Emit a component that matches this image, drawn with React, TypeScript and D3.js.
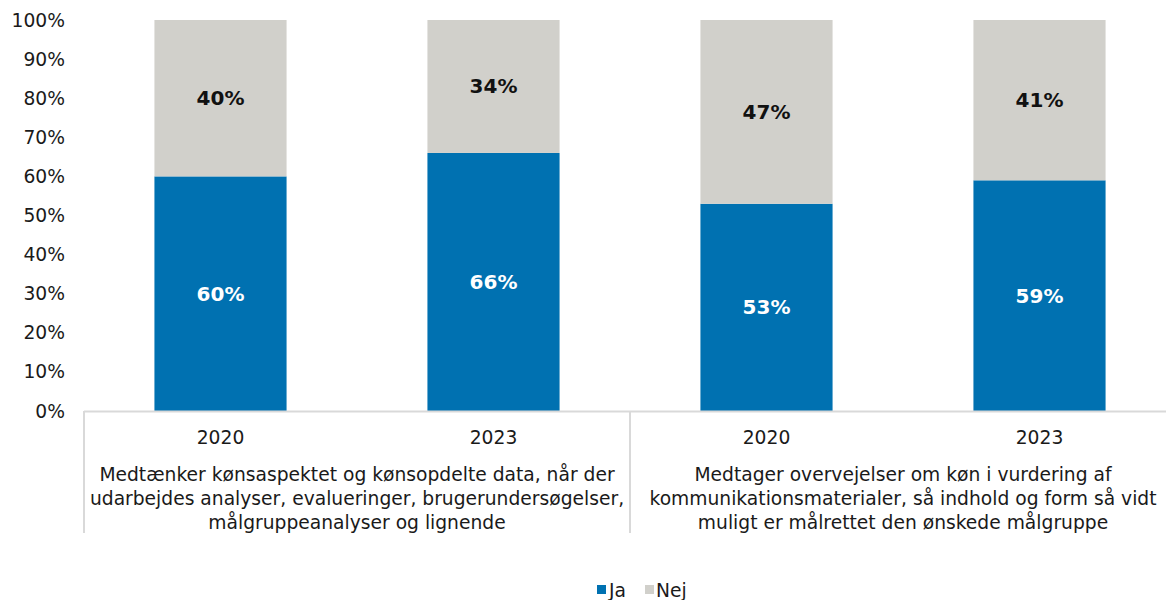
import React from "react";
import * as d3 from "d3";

const barKeys = ["g1-2020", "g1-2023", "g2-2020", "g2-2023"];
const years = ["2020", "2023", "2020", "2023"];
const groups = ["g1", "g2"];
const groupLabels = [
  [
    "Medtænker kønsaspektet og kønsopdelte data, når der",
    "udarbejdes analyser, evalueringer, brugerundersøgelser,",
    "målgruppeanalyser og lignende",
  ],
  [
    "Medtager overvejelser om køn i vurdering af",
    "kommunikationsmaterialer, så indhold og form så vidt",
    "muligt er målrettet den ønskede målgruppe",
  ],
];
const jaValues = [60, 66, 53, 59];
const nejValues = [40, 34, 47, 41];
const yTicks = [0, 10, 20, 30, 40, 50, 60, 70, 80, 90, 100];
const seriesNames = ["Ja", "Nej"];
const seriesColors = ["#0071B1", "#D1D0CB"];

const W = 1166;
const H = 600;
const FONT = "'DejaVu Sans', Verdana, sans-serif";
const FS = 18.7;

export default function App() {
  const left = 84;
  const right = 1176;
  const top = 20;
  const bottom = 411;
  const x = d3.scaleBand<string>().domain(barKeys).range([left, right]).paddingInner(0.516).paddingOuter(0.258);
  const xg = d3.scaleBand<string>().domain(groups).range([left, right]);
  const y = d3.scaleLinear().domain([0, 100]).range([bottom, top]);
  const axisColor = "#D9D9D9";
  const textColor = "#1a1a1a";

  return (
    <svg width={W} height={H} style={{ position: "absolute", left: 0, top: 0 }} fontFamily={FONT}>
      <rect x={0} y={0} width={W} height={H} fill="#fff" />
      {yTicks.map((t) => (
        <text key={t} x={65} y={y(t)} dy="0.35em" textAnchor="end" fontSize={FS} fill={textColor}>
          {t}%
        </text>
      ))}
      {barKeys.map((k, i) => {
        const bx = x(k)!;
        const bw = x.bandwidth();
        const ja = jaValues[i];
        const nej = nejValues[i];
        return (
          <g key={k}>
            <rect x={bx} y={y(ja)} width={bw} height={y(0) - y(ja)} fill={seriesColors[0]} />
            <rect x={bx} y={y(ja + nej)} width={bw} height={y(ja) - y(ja + nej)} fill={seriesColors[1]} />
            <text x={bx + bw / 2} y={y(ja / 2)} dy="0.35em" textAnchor="middle" fontSize={20} fontWeight="bold" fill="#fff">
              {ja}%
            </text>
            <text x={bx + bw / 2} y={y(ja + nej / 2)} dy="0.35em" textAnchor="middle" fontSize={20} fontWeight="bold" fill="#111">
              {nej}%
            </text>
            <text x={bx + bw / 2} y={437} dy="0.35em" textAnchor="middle" fontSize={FS} fill={textColor}>
              {years[i]}
            </text>
          </g>
        );
      })}
      <line x1={left} x2={W} y1={bottom + 0.5} y2={bottom + 0.5} stroke={axisColor} strokeWidth={2} />
      {groups.map((g, gi) => {
        const gx = xg(g)!;
        const cx = gx + xg.bandwidth() / 2;
        return (
          <g key={g}>
            <line x1={gx} x2={gx} y1={bottom} y2={533} stroke={axisColor} strokeWidth={2} />
            {groupLabels[gi].map((ln, li) => (
              <text key={li} x={cx} y={474 + li * 24} dy="0.35em" textAnchor="middle" fontSize={FS} fill={textColor}>
                {ln}
              </text>
            ))}
          </g>
        );
      })}
      <g>
        <rect x={597} y={585} width={9} height={9} fill={seriesColors[0]} />
        <text x={609} y={590} dy="0.35em" fontSize={FS} fill={textColor}>{seriesNames[0]}</text>
        <rect x={645} y={585} width={9} height={9} fill={seriesColors[1]} />
        <text x={656} y={590} dy="0.35em" fontSize={FS} fill={textColor}>{seriesNames[1]}</text>
      </g>
    </svg>
  );
}
